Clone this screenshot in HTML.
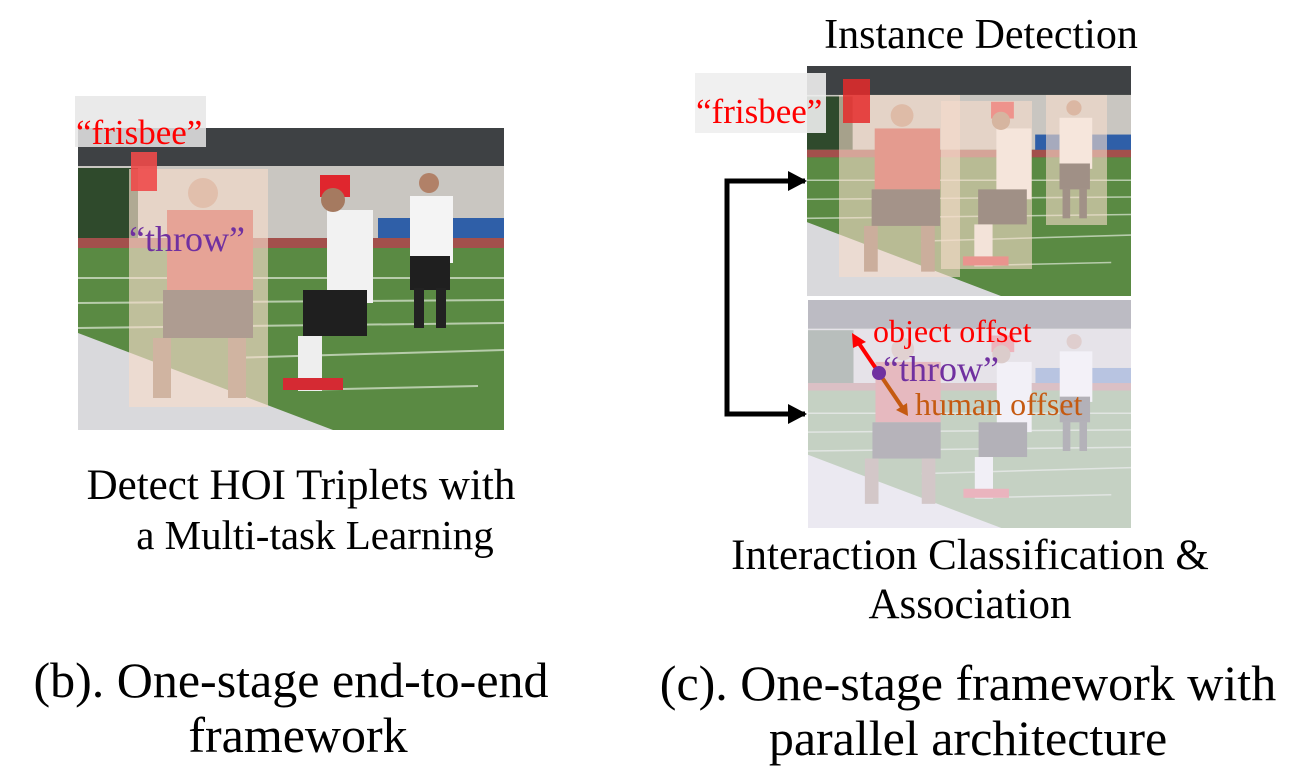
<!DOCTYPE html>
<html><head><meta charset="utf-8"><style>
html,body{margin:0;padding:0;background:#fff;}
svg{display:block;}
text{font-family:"Liberation Serif",serif;}
</style></head><body>
<svg width="1305" height="783" viewBox="0 0 1305 783" xmlns="http://www.w3.org/2000/svg">
<defs>
<symbol id="scene" viewBox="0 0 426 302" preserveAspectRatio="none">
  <rect x="0" y="0" width="426" height="302" fill="#4f7f3e"/>
  <rect x="0" y="0" width="426" height="38" fill="#3e4144"/>
  <rect x="0" y="38" width="426" height="72" fill="#c9c6c1"/>
  <rect x="0" y="40" width="60" height="70" fill="#2f4a2c"/>
  <rect x="300" y="90" width="126" height="22" fill="#2f5fa8"/>
  <rect x="0" y="110" width="426" height="10" fill="#a3504c"/>
  <rect x="0" y="120" width="426" height="182" fill="#5a8a43"/>
  <g stroke="#dfe8d8" stroke-width="2" opacity="0.7">
    <line x1="0" y1="150" x2="426" y2="150"/><line x1="0" y1="175" x2="426" y2="172"/>
    <line x1="0" y1="200" x2="426" y2="195"/><line x1="150" y1="230" x2="426" y2="222"/>
    <line x1="220" y1="262" x2="400" y2="258"/>
  </g>
  <polygon points="0,205 0,302 255,302" fill="#d9d9dc"/>
  <rect x="89" y="82" width="86" height="80" fill="#c83a36"/>
  <rect x="85" y="162" width="90" height="48" fill="#2a2626"/>
  <rect x="75" y="210" width="18" height="60" fill="#8a6a55"/>
  <rect x="150" y="210" width="18" height="60" fill="#8a6a55"/>
  <circle cx="125" cy="65" r="15" fill="#b98a72"/>
  <rect x="249" y="82" width="46" height="93" fill="#f2f2f2"/>
  <rect x="225" y="162" width="64" height="46" fill="#1f1f1f"/>
  <rect x="220" y="208" width="24" height="55" fill="#eeeeee"/>
  <rect x="242" y="47" width="30" height="22" fill="#e0262e"/>
  <circle cx="255" cy="72" r="12" fill="#a57a60"/>
  <rect x="205" y="250" width="60" height="12" fill="#d52a33"/>
  <rect x="332" y="68" width="43" height="67" fill="#f4f4f4"/>
  <rect x="332" y="128" width="40" height="34" fill="#1f1f1f"/>
  <rect x="336" y="160" width="10" height="40" fill="#222"/>
  <rect x="358" y="160" width="10" height="40" fill="#222"/>
  <circle cx="351" cy="55" r="10" fill="#b18168"/>
</symbol>
</defs>

<use href="#scene" x="78" y="128" width="426" height="302"/>
<rect x="129" y="169" width="139" height="238" fill="#f6dccb" opacity="0.65"/>
<rect x="131" y="152" width="26" height="39" fill="#ee4a4a" opacity="0.9"/>
<rect x="75" y="96" width="131" height="51" fill="#e6e6e6" opacity="0.85"/>
<text x="76" y="144" font-size="35" fill="#ff0000">“frisbee”</text>
<text x="129" y="251" font-size="36" fill="#7030a0">“throw”</text>

<use href="#scene" x="807" y="66" width="324" height="230"/>
<rect x="839" y="95" width="121" height="182" fill="#f6dccb" opacity="0.6"/>
<rect x="941" y="101" width="91" height="168" fill="#f6dccb" opacity="0.6"/>
<rect x="1046" y="95" width="61" height="130" fill="#f6dccb" opacity="0.6"/>
<rect x="843" y="79" width="27" height="44" fill="#e52a2a" opacity="0.85"/>
<rect x="695" y="73" width="131" height="60" fill="#eeeeee" opacity="0.9"/>
<text x="696" y="123" font-size="35" fill="#ff0000">“frisbee”</text>
<text x="981" y="48" font-size="42" fill="#000" text-anchor="middle">Instance Detection</text>

<use href="#scene" x="808" y="300" width="323" height="228"/>
<rect x="808" y="300" width="323" height="228" fill="#f2f0fa" opacity="0.7"/>

<polyline points="805,181 727,181 727,414 805,414" fill="none" stroke="#000" stroke-width="5"/>
<polygon points="807,181 788,171 788,191" fill="#000"/>
<polygon points="807,414 788,404 788,424" fill="#000"/>

<line x1="879" y1="373" x2="858" y2="342" stroke="#ff0000" stroke-width="4"/>
<polygon points="852,333 866,342 853,348" fill="#ff0000"/>
<line x1="879" y1="373" x2="902" y2="407" stroke="#c55a11" stroke-width="4"/>
<polygon points="908,416 896,410 907,403" fill="#c55a11"/>
<circle cx="879" cy="373" r="7" fill="#7030a0"/>
<text x="873" y="342" font-size="32" fill="#ff0000">object offset</text>
<text x="883" y="381" font-size="36" fill="#7030a0">“throw”</text>
<text x="915" y="415" font-size="32" fill="#c55a11">human offset</text>

<text x="301" y="499" font-size="43" text-anchor="middle">Detect HOI Triplets with</text>
<text x="315" y="549" font-size="41" text-anchor="middle">a Multi-task Learning</text>
<text x="970" y="569" font-size="43" text-anchor="middle">Interaction Classification &amp;</text>
<text x="970" y="618" font-size="43" text-anchor="middle">Association</text>
<text x="291" y="697" font-size="50" text-anchor="middle">(b). One-stage end-to-end</text>
<text x="298" y="752" font-size="50" text-anchor="middle">framework</text>
<text x="968" y="700" font-size="50" text-anchor="middle">(c). One-stage framework with</text>
<text x="968" y="755" font-size="50" text-anchor="middle">parallel architecture</text>
</svg>
</body></html>
